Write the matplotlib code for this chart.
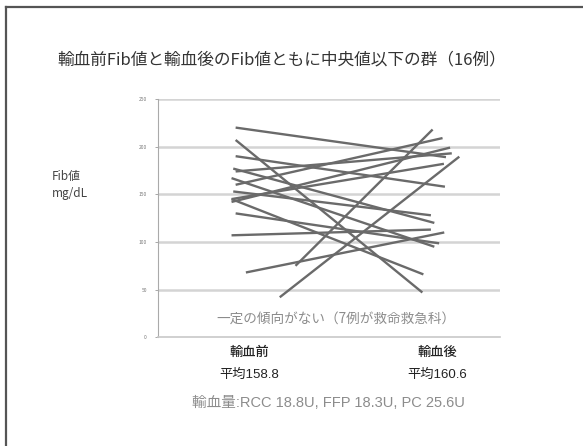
import numpy as np
import matplotlib.pyplot as plt
from matplotlib.lines import Line2D

plt.rcParams['font.family'] = ['Noto Sans CJK JP', 'DejaVu Sans']
mixed = ['Liberation Sans', 'Noto Sans CJK JP']

# Fib values per patient, before and after transfusion (mg/dL)
fib_before = [220, 207, 190, 177, 167, 153, 130, 145,
              160, 142, 174, 145, 107, 68, 75, 42]
fib_after = [189, 47, 158, 120, 95, 128, 98.6, 66,
             209, 199, 193, 182, 113, 110, 218, 189.5]
# horizontal placement of each segment's ends along the axis (0..1)
x_before = [0.227, 0.227, 0.227, 0.22, 0.215, 0.22, 0.227, 0.215,
            0.227, 0.215, 0.227, 0.215, 0.215, 0.257, 0.402, 0.356]
x_after = [0.842, 0.773, 0.839, 0.808, 0.808, 0.798, 0.822, 0.776,
           0.832, 0.854, 0.859, 0.836, 0.798, 0.837, 0.803, 0.881]

groups = ['輸血前', '輸血後']
means = ['平均158.8', '平均160.6']
yticks = [0, 50, 100, 150, 200, 250]

fig = plt.figure(figsize=(5.83, 4.46), dpi=100)
ax = fig.add_axes([158 / 583, 1 - 337.3 / 446, 342 / 583, 238.3 / 446])

for yv in yticks[1:]:
    ax.axhline(yv, color='#d4d4d4', lw=1.8, zorder=1)

for xb, xa, yb, ya in zip(x_before, x_after, fib_before, fib_after):
    ax.plot([xb, xa], [yb, ya], color='#6a6a6a', lw=1.7,
            solid_capstyle='butt', zorder=3)

ax.set_xlim(0, 1)
ax.set_ylim(0, 250)
ax.set_yticks(yticks)
ax.set_yticklabels([str(v) for v in yticks], fontsize=3.5, color='#777777')
ax.tick_params(axis='y', length=2, width=0.6, color='#999999', pad=6)
ax.set_xticks([])
for s in ['top', 'right']:
    ax.spines[s].set_visible(False)
ax.spines['left'].set_color('#aaaaaa')
ax.spines['left'].set_linewidth(0.8)
ax.spines['bottom'].set_color('#c8c8c8')
ax.spines['bottom'].set_linewidth(1.2)

ax.text(0.52, 20, '一定の傾向がない（7例が救命救急科）', ha='center', va='center',
        fontsize=9.8, color='#8c8c8c')

# slide texts
fig.text(282 / 583, 1 - 60 / 446,
         '輸血前Fib値と輸血後のFib値ともに中央値以下の群（16例）',
         ha='center', va='center', fontsize=12, color='#333333')
fig.text(52 / 583, 1 - 177 / 446, 'Fib値', ha='left', va='center',
         fontsize=8.5, color='#444444')
fig.text(52 / 583, 1 - 193 / 446, 'mg/dL', ha='left', va='center',
         fontsize=8.5, color='#444444')

for xc, g, m in zip([249, 437], groups, means):
    fig.text(xc / 583, 1 - 352 / 446, g, ha='center', va='center',
             fontsize=9.5, color='#222222', fontweight='medium')
    fig.text(xc / 583, 1 - 375 / 446, m, ha='center', va='center',
             fontsize=9.5, color='#222222', family=mixed)

fig.text(328 / 583, 1 - 403 / 446, '輸血量:RCC 18.8U, FFP 18.3U, PC 25.6U',
         ha='center', va='center', fontsize=10.5, color='#8c8c8c',
         family=mixed)

# frame along top and left of the slide
fig.add_artist(Line2D([5.5 / 583, 5.5 / 583], [0, 1 - 7 / 446],
                      color='#555555', lw=1.6, transform=fig.transFigure))
fig.add_artist(Line2D([5.5 / 583, 1], [1 - 7 / 446, 1 - 7 / 446],
                      color='#555555', lw=1.6, transform=fig.transFigure))

fig.savefig('out.png', dpi=100)
